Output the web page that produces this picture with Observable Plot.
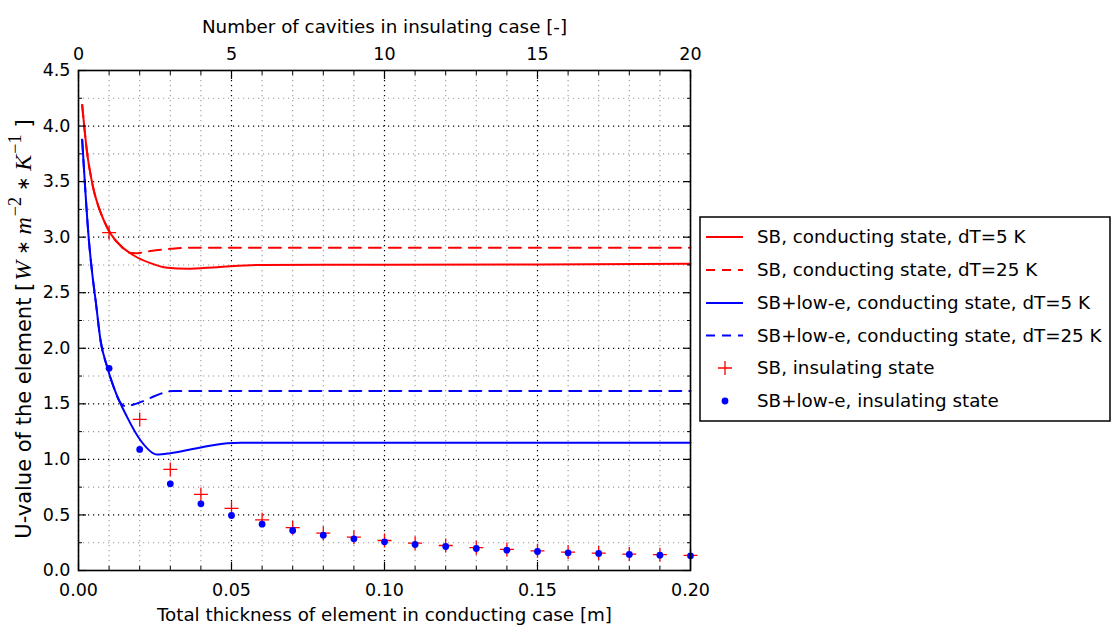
<!DOCTYPE html>
<html><head><meta charset="utf-8">
<script src="https://cdn.jsdelivr.net/npm/d3@7"></script>
<script src="https://cdn.jsdelivr.net/npm/@observablehq/plot@0.6"></script>
<style>body{margin:0;background:#fff;} svg{display:block}</style>
</head><body>
<div id="chart"></div>
<script>
// ---- data ----
const insulatingThickness = [0.01,0.02,0.03,0.04,0.05,0.06,0.07,0.08,0.09,0.10,0.11,0.12,0.13,0.14,0.15,0.16,0.17,0.18,0.19,0.20];
const sbInsulating   = [3.04,1.36,0.91,0.685,0.56,0.456,0.385,0.336,0.30,0.27,0.246,0.225,0.205,0.19,0.177,0.165,0.157,0.148,0.142,0.136];
const lowEInsulating = [1.82,1.09,0.78,0.60,0.495,0.417,0.36,0.318,0.285,0.258,0.234,0.216,0.198,0.183,0.171,0.159,0.153,0.144,0.138,0.132];

const sbDT5X  = [0.0012,0.0030,0.0039,0.0050,0.0066,0.0083,0.0105,0.0137,0.0181,0.0235,0.029,0.0355,0.0453,0.0595,0.08,0.10,0.15,0.20];
const sbDT5Y  = [4.19,3.72,3.57,3.42,3.27,3.15,3.03,2.925,2.835,2.766,2.724,2.715,2.73,2.75,2.752,2.752,2.755,2.76];
const sbDT25X = [0.0012,0.0030,0.0039,0.0050,0.0066,0.0083,0.0105,0.0137,0.0164,0.0185,0.0235,0.030,0.036,0.10,0.20];
const sbDT25Y = [4.19,3.72,3.57,3.42,3.27,3.15,3.03,2.925,2.86,2.855,2.875,2.895,2.905,2.905,2.905];

const lowEDT5X  = [0.0012,0.0023,0.0034,0.0045,0.0056,0.0072,0.0094,0.0115,0.0159,0.0203,0.0257,0.030,0.0377,0.0486,0.053,0.10,0.20];
const lowEDT5Y  = [3.877,3.39,2.97,2.67,2.43,2.07,1.83,1.65,1.38,1.17,1.044,1.056,1.095,1.146,1.15,1.15,1.15];
const lowEDT25X = [0.0012,0.0023,0.0034,0.0045,0.0056,0.0072,0.0094,0.0115,0.0137,0.0154,0.0175,0.0203,0.025,0.029,0.031,0.10,0.20];
const lowEDT25Y = [3.877,3.39,2.97,2.67,2.43,2.07,1.83,1.65,1.51,1.478,1.49,1.515,1.57,1.61,1.615,1.615,1.615];

const xMajorTicks = [0, 0.05, 0.10, 0.15, 0.20];
const xTickLabels = ["0.00", "0.05", "0.10", "0.15", "0.20"];
const cavityTicks = [0, 5, 10, 15, 20];
const cavityLabels = ["0", "5", "10", "15", "20"];
const yMajorTicks = [0, 0.5, 1, 1.5, 2, 2.5, 3, 3.5, 4, 4.5];
const yTickLabels = ["0.0","0.5","1.0","1.5","2.0","2.5","3.0","3.5","4.0","4.5"];
const yMinorTicks = [0.25, 0.75, 1.25, 1.75, 2.25, 2.75, 3.25, 3.75, 4.25];
const xMinorTicks = d3.range(1, 20).filter(i => i % 5 !== 0).map(i => i / 100);

const seriesNames = [
  "SB, conducting state, dT=5 K",
  "SB, conducting state, dT=25 K",
  "SB+low-e, conducting state, dT=5 K",
  "SB+low-e, conducting state, dT=25 K",
  "SB, insulating state",
  "SB+low-e, insulating state"
];
const xLabel = "Total thickness of element in conducting case [m]";
const topLabel = "Number of cavities in insulating case [-]";

// ---- tables ----
const pts = (xs, ys) => xs.map((x, i) => ({x, y: ys[i]}));
const sbIns = pts(insulatingThickness, sbInsulating);
const lowEIns = pts(insulatingThickness, lowEInsulating);

const RED = "#ff0000", BLUE = "#0000ff";
const plusSymbol = {
  draw(ctx, size) {
    const r = Math.sqrt(size / Math.PI);
    ctx.moveTo(-r, 0); ctx.lineTo(r, 0);
    ctx.moveTo(0, -r); ctx.lineTo(0, r);
  }
};
const dotted = "1.2,3.8";

const svgNode = Plot.plot({
  width: 1114, height: 635,
  marginLeft: 78, marginRight: 424, marginTop: 70, marginBottom: 65,
  style: {fontFamily: "DejaVu Sans", fontSize: "17.5px", background: "#fff", color: "#000"},
  x: {domain: [0, 0.2]},
  y: {domain: [0, 4.5]},
  marks: [
    Plot.gridX({ticks: xMinorTicks, stroke: "#999", strokeOpacity: 1, strokeWidth: 1.1, strokeDasharray: dotted}),
    Plot.gridY({ticks: yMinorTicks, stroke: "#999", strokeOpacity: 1, strokeWidth: 1.1, strokeDasharray: dotted}),
    Plot.gridX({ticks: xMajorTicks, stroke: "#000", strokeOpacity: 1, strokeWidth: 1.2, strokeDasharray: dotted}),
    Plot.gridY({ticks: yMajorTicks, stroke: "#000", strokeOpacity: 1, strokeWidth: 1.2, strokeDasharray: dotted}),

    Plot.line(pts(sbDT5X, sbDT5Y), {x: "x", y: "y", stroke: RED, strokeWidth: 2, curve: "monotone-x"}),
    Plot.line(pts(sbDT25X, sbDT25Y), {x: "x", y: "y", stroke: RED, strokeWidth: 2, strokeDasharray: "12,8", curve: "monotone-x"}),
    Plot.line(pts(lowEDT5X, lowEDT5Y), {x: "x", y: "y", stroke: BLUE, strokeWidth: 2, curve: "monotone-x"}),
    Plot.line(pts(lowEDT25X, lowEDT25Y), {x: "x", y: "y", stroke: BLUE, strokeWidth: 2, strokeDasharray: "12,8", curve: "monotone-x"}),

    Plot.dot(sbIns, {x: "x", y: "y", symbol: plusSymbol, r: 7, stroke: RED, strokeWidth: 1.3, fill: "none"}),
    Plot.dot(lowEIns, {x: "x", y: "y", r: 3.4, fill: BLUE, stroke: "none"}),

    // axes: labels
    Plot.axisX({anchor: "bottom", ticks: xMajorTicks, tickSize: 0, tickPadding: 13, label: null,
      tickFormat: d => xTickLabels[xMajorTicks.indexOf(d)]}),
    Plot.axisX({anchor: "top", ticks: cavityTicks.map(c => c / 100), tickSize: 0, tickPadding: 11, label: null,
      tickFormat: d => cavityLabels[cavityTicks.indexOf(Math.round(d * 100))]}),
    Plot.axisY({anchor: "left", ticks: yMajorTicks, tickSize: 0, tickPadding: 8, label: null,
      tickFormat: d => yTickLabels[yMajorTicks.indexOf(d)]}),
    // inward ticks
    Plot.axisX({anchor: "bottom", ticks: xMajorTicks, tickSize: -8, tickFormat: () => "", label: null, strokeWidth: 1.2}),
    Plot.axisX({anchor: "bottom", ticks: xMinorTicks, tickSize: -4, tickFormat: () => "", label: null}),
    Plot.axisX({anchor: "top", ticks: xMajorTicks, tickSize: -8, tickFormat: () => "", label: null, strokeWidth: 1.2}),
    Plot.axisX({anchor: "top", ticks: xMinorTicks, tickSize: -4, tickFormat: () => "", label: null}),
    Plot.axisY({anchor: "left", ticks: yMajorTicks, tickSize: -8, tickFormat: () => "", label: null, strokeWidth: 1.2}),
    Plot.axisY({anchor: "left", ticks: yMinorTicks, tickSize: -4, tickFormat: () => "", label: null}),
    Plot.axisY({anchor: "right", ticks: yMajorTicks, tickSize: -8, tickFormat: () => "", label: null, strokeWidth: 1.2}),
    Plot.axisY({anchor: "right", ticks: yMinorTicks, tickSize: -4, tickFormat: () => "", label: null}),

    Plot.text([xLabel], {text: d => d, frameAnchor: "bottom", dy: 50, fontSize: 18.3}),
    Plot.text([topLabel], {text: d => d, frameAnchor: "top", dy: -51, fontSize: 18.3}),
    Plot.frame({stroke: "#000", strokeWidth: 1.6})
  ]
});
document.getElementById("chart").appendChild(svgNode);

const svg = d3.select(svgNode);

// y-axis label with math superscripts
const yl = svg.append("text")
  .attr("transform", "translate(31,329) rotate(-90)")
  .attr("text-anchor", "middle")
  .attr("font-family", "DejaVu Sans")
  .attr("font-size", 21)
  .attr("fill", "#000");
const serif = "Liberation Serif";
yl.append("tspan").text("U-value of the element [");
yl.append("tspan").attr("font-family", serif).attr("font-style", "italic").attr("font-size", 24).attr("dx", 2).text("W");
yl.append("tspan").attr("font-family", "DejaVu Sans").attr("font-size", 17).attr("dx", 6).attr("dy", -2).text("\u2217");
yl.append("tspan").attr("font-family", serif).attr("font-style", "italic").attr("font-size", 24).attr("dx", 6).attr("dy", 2).text("m");
yl.append("tspan").attr("font-family", serif).attr("font-size", 18).attr("dx", 1).attr("dy", -10).text("\u22122");
yl.append("tspan").attr("font-family", "DejaVu Sans").attr("font-size", 17).attr("dx", 6).attr("dy", 8).text("\u2217");
yl.append("tspan").attr("font-family", serif).attr("font-style", "italic").attr("font-size", 24).attr("dx", 6).attr("dy", 2).text("K");
yl.append("tspan").attr("font-family", serif).attr("font-size", 18).attr("dx", 1).attr("dy", -10).text("\u22121");
yl.append("tspan").attr("dx", 7).attr("dy", 10).text("]");

// legend
const lg = svg.append("g").attr("font-family", "DejaVu Sans").attr("font-size", 18.3).attr("text-anchor", "start");
lg.append("rect").attr("x", 700).attr("y", 217).attr("width", 410).attr("height", 204)
  .attr("fill", "#fff").attr("stroke", "#000").attr("stroke-width", 1.5);
const rowY = [237, 270, 303, 335.5, 368, 401];
const styles = [
  {type: "line", color: RED, dash: null},
  {type: "line", color: RED, dash: "9,7"},
  {type: "line", color: BLUE, dash: null},
  {type: "line", color: BLUE, dash: "9,7"},
  {type: "plus", color: RED},
  {type: "dot", color: BLUE}
];
seriesNames.forEach((name, i) => {
  const y = rowY[i], s = styles[i];
  if (s.type === "line") {
    lg.append("line").attr("x1", 706).attr("x2", 743).attr("y1", y).attr("y2", y)
      .attr("stroke", s.color).attr("stroke-width", 2).attr("stroke-dasharray", s.dash);
  } else if (s.type === "plus") {
    lg.append("path").attr("d", `M${718},${y}H${732}M${725},${y-7}V${y+7}`)
      .attr("stroke", s.color).attr("stroke-width", 1.3).attr("fill", "none");
  } else {
    lg.append("circle").attr("cx", 725).attr("cy", y).attr("r", 3.4).attr("fill", s.color);
  }
  lg.append("text").attr("x", 757).attr("y", y).attr("dy", "0.35em").attr("text-anchor", "start").attr("fill", "#000").text(name);
});
</script>
</body></html>
